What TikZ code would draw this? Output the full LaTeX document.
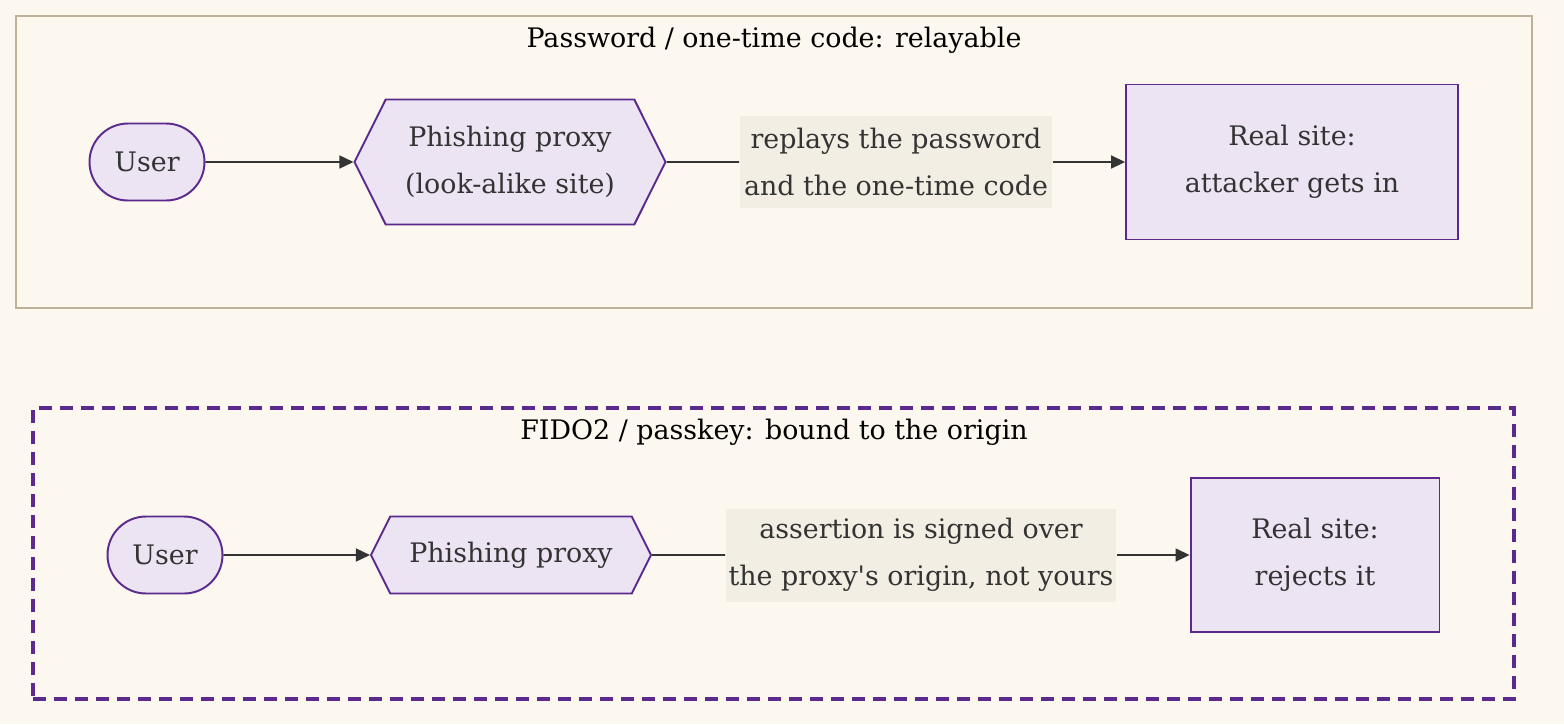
\documentclass[tikz,border=0pt]{standalone}
\usepackage{fontspec}
\setmainfont{DejaVu Serif}
\usepackage{xcolor}
\usepackage{tikz}
\usetikzlibrary{shapes.symbols,arrows.meta,positioning,calc}
\definecolor{bgcream}{HTML}{FCF7EF}
\definecolor{boxtan}{HTML}{BDB198}
\definecolor{nodefill}{HTML}{ECE3F3}
\definecolor{nodeline}{HTML}{5B2A8C}
\definecolor{labelfill}{HTML}{F3EEE3}
\definecolor{inkgray}{HTML}{333333}

\begin{document}
\begin{tikzpicture}[x=0.02cm,y=-0.02cm,
    every node/.style={font=\fontsize{15.3}{26.5}\selectfont,text=inkgray,
                       align=center,inner sep=0pt},
    usernode/.style={draw=nodeline,fill=nodefill,line width=1.1pt,
                     rounded corners=0.77cm,minimum width=2.3cm,minimum height=1.54cm},
    proxynode/.style={shape=signal,signal to=west and east,signal pointer angle=127,
                      draw=nodeline,fill=nodefill,line width=1.1pt},
    sitenode/.style={draw=nodeline,fill=nodefill,line width=1.1pt},
    relaylabel/.style={fill=labelfill,minimum height=1.86cm},
    groupbox/.style={draw=boxtan,line width=0.9pt},
    grouptitle/.style={text=black},
    flow/.style={draw=inkgray,line width=0.9pt,-{Triangle[length=0.28cm,width=0.26cm]}},
    plain/.style={draw=inkgray,line width=0.9pt}]
  % Canvas
  \fill[bgcream] (0,0) rectangle (1564,724);
  \useasboundingbox (0,0) rectangle (1564,724);

  % Top group: password / one-time code
  \node[groupbox,minimum width=30.32cm,minimum height=5.84cm] (relaybox) at (774,162) {};
  \node[grouptitle] (relaytitle) at (774,40) {Password / one-time code: relayable};
  \node[usernode] (user1) at (147,162) {User};
  \node[proxynode,minimum width=6.22cm,minimum height=2.5cm] (proxy1) at (510,162)
    {Phishing proxy\\(look-alike site)};
  \node[relaylabel,minimum width=6.26cm] (relay1) at (896,162)
    {replays the password\\and the one-time code};
  \node[sitenode,minimum width=6.64cm,minimum height=3.1cm] (site1) at (1292,162)
    {Real site:\\attacker gets in};
  \draw[flow] (user1) -- (proxy1);
  \draw[plain] (proxy1) -- (relay1);
  \draw[flow] (relay1) -- (site1);

  % Bottom group: FIDO2 / passkey
  \node[draw=nodeline,line width=2.3pt,dash pattern=on 0.26cm off 0.16cm,
        minimum width=29.62cm,minimum height=5.82cm] (fidobox) at (773.5,553.5) {};
  \node[grouptitle] (fidotitle) at (774,432) {FIDO2 / passkey: bound to the origin};
  \node[usernode] (user2) at (165,555) {User};
  \node[proxynode,minimum width=5.6cm,minimum height=1.54cm] (proxy2) at (511,555)
    {Phishing proxy};
  \node[relaylabel,minimum width=7.82cm] (relay2) at (921,555)
    {assertion is signed over\\the proxy\textquotesingle s origin, not yours};
  \node[sitenode,minimum width=4.98cm,minimum height=3.08cm] (site2) at (1315,555)
    {Real site:\\rejects it};
  \draw[flow] (user2) -- (proxy2);
  \draw[plain] (proxy2) -- (relay2);
  \draw[flow] (relay2) -- (site2);
\end{tikzpicture}
\end{document}
